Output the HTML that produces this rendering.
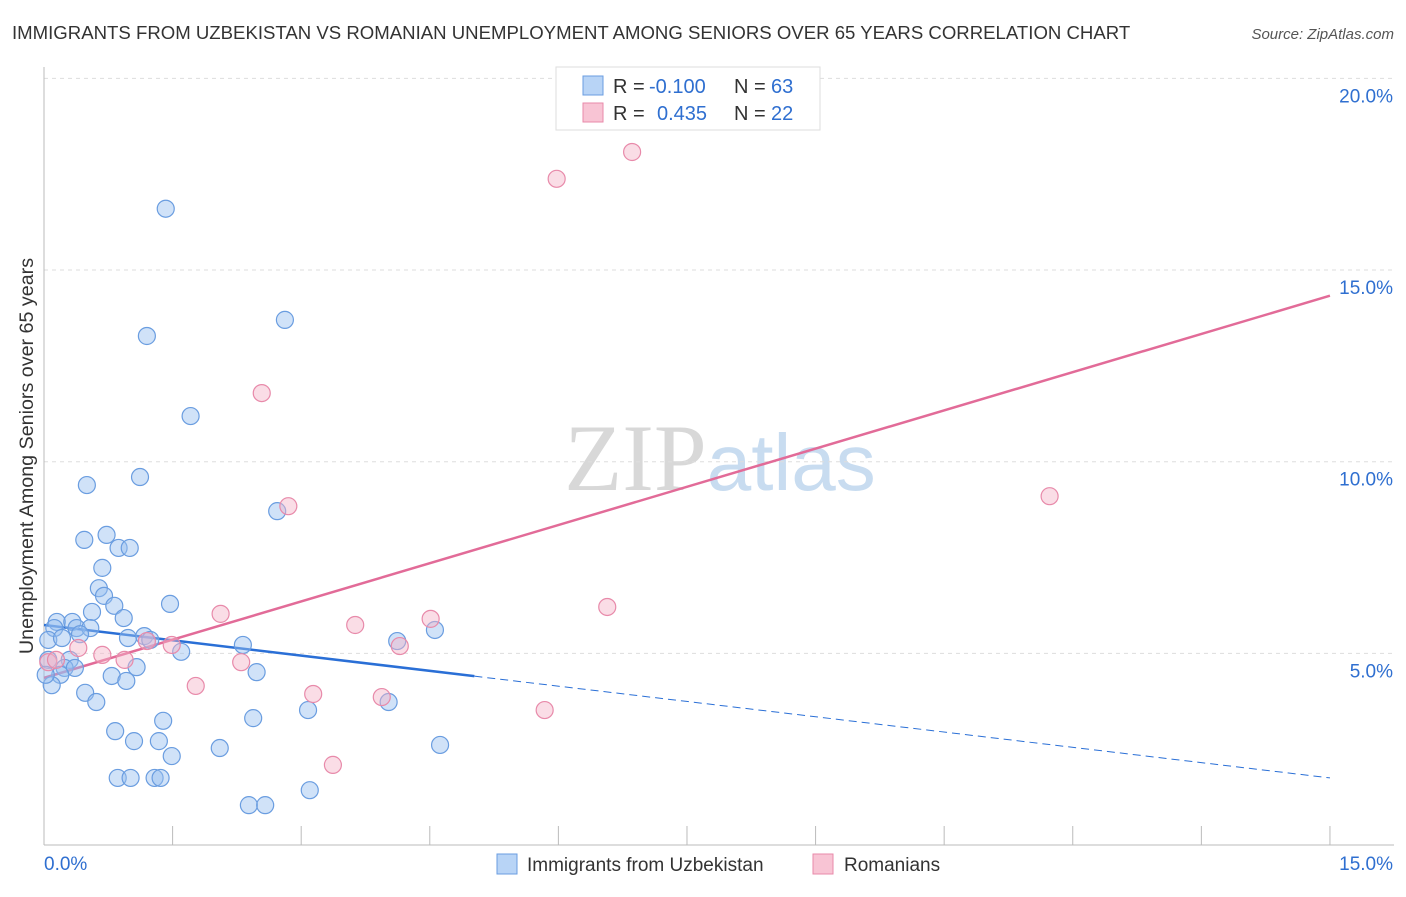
<!DOCTYPE html>
<html><head><meta charset="utf-8"><style>
body{margin:0;background:#fff;font-family:"Liberation Sans",sans-serif;}
svg text{font-family:"Liberation Sans",sans-serif;}
</style></head><body>
<svg id="chart" width="1406" height="892" viewBox="0 0 1406 892" xmlns="http://www.w3.org/2000/svg">
<text x="12" y="39" font-size="18.6" fill="#333">IMMIGRANTS FROM UZBEKISTAN VS ROMANIAN UNEMPLOYMENT AMONG SENIORS OVER 65 YEARS CORRELATION CHART</text>
<text x="1394" y="39" font-size="15" fill="#555" text-anchor="end" font-style="italic">Source: ZipAtlas.com</text>
<text x="720" y="490" font-size="95" text-anchor="middle" fill="#ddd"><tspan font-family="Liberation Serif" fill="#d8d8d8">ZIP</tspan><tspan fill="#c8dcf0" font-size="80">atlas</tspan></text>
<g id="grid"></g>
<g id="axes"></g>
<g id="lines"></g>
<g id="pts"></g>
<text transform="translate(33,456) rotate(-90)" font-size="19.7" fill="#333" text-anchor="middle">Unemployment Among Seniors over 65 years</text>
<g>
<rect x="556" y="67" width="264" height="63" fill="#fff" stroke="#ddd"/>
<rect x="583" y="76" width="20" height="19" fill="#b8d4f6" stroke="#6a9de0"/>
<rect x="583" y="103" width="20" height="19" fill="#f8c4d4" stroke="#e88aaa"/>
<text x="613" y="93" font-size="20" fill="#333">R =</text>
<text x="649" y="93" font-size="20" fill="#2f6fd0">-0.100</text>
<text x="734" y="93" font-size="20" fill="#333">N =</text>
<text x="771" y="93" font-size="20" fill="#2f6fd0">63</text>
<text x="613" y="120" font-size="20" fill="#333">R =</text>
<text x="657" y="120" font-size="20" fill="#2f6fd0">0.435</text>
<text x="734" y="120" font-size="20" fill="#333">N =</text>
<text x="771" y="120" font-size="20" fill="#2f6fd0">22</text>
</g>
<g>
<rect x="497" y="854" width="20" height="20" fill="#b8d4f6" stroke="#6a9de0"/>
<text x="527" y="871" font-size="19" fill="#333">Immigrants from Uzbekistan</text>
<rect x="813" y="854" width="20" height="20" fill="#f8c4d4" stroke="#e88aaa"/>
<text x="844" y="871" font-size="19" fill="#333">Romanians</text>
</g>
</svg>
<script>
const blueX=[1.42,2.81,1.20,1.71,1.12,0.50,2.72,0.47,0.73,0.87,1.00,0.68,0.64,0.70,0.56,0.82,1.47,0.93,0.15,0.33,0.12,0.38,0.54,0.05,0.21,0.42,0.98,1.17,1.24,2.32,1.60,4.12,4.56,0.30,0.24,0.36,0.19,0.09,1.08,0.79,0.96,2.48,0.48,0.61,4.02,3.08,2.44,1.39,0.83,1.05,1.34,1.49,2.05,4.62,0.86,1.01,1.29,1.36,2.39,2.58,3.10,0.05,0.02];
const blueY=[16.60,13.70,13.28,11.19,9.60,9.39,8.71,7.96,8.09,7.75,7.75,7.23,6.70,6.50,6.08,6.24,6.29,5.92,5.82,5.82,5.66,5.66,5.66,5.35,5.40,5.50,5.40,5.45,5.35,5.22,5.04,5.32,5.61,4.83,4.62,4.62,4.44,4.17,4.64,4.41,4.28,4.51,3.97,3.73,3.73,3.52,3.31,3.24,2.97,2.71,2.71,2.32,2.53,2.61,1.75,1.75,1.75,1.75,1.04,1.04,1.43,4.83,4.44];
const pinkX=[6.86,5.98,2.54,2.85,11.73,6.57,2.06,4.51,3.63,4.15,1.49,1.20,0.40,0.68,0.94,2.30,0.05,0.14,1.77,3.14,3.94,5.84,3.37];
const pinkY=[18.08,17.38,11.79,8.84,9.10,6.21,6.03,5.90,5.74,5.19,5.22,5.32,5.14,4.96,4.83,4.77,4.77,4.83,4.15,3.94,3.86,3.52,2.09];
const yTicks=[5,10,15,20];
const yTickLabels=["5.0%","10.0%","15.0%","20.0%"];
const xTicks=[0,1.5,3,4.5,6,7.5,9,10.5,12,13.5,15];
const blueTrend=[5.74,-0.266,5.02];
const pinkTrend=[4.36,14.33];
const NS="http://www.w3.org/2000/svg";
const X=v=>44+v*85.73, Y=v=>845-v*38.33;
function mk(p,t,a){const e=document.createElementNS(NS,t);for(const k in a)e.setAttribute(k,a[k]);document.getElementById(p).appendChild(e);return e;}
yTicks.forEach((t,i)=>{
 const g=mk('grid','line',{x1:44,x2:1394,y1:Y(t),y2:Y(t),stroke:'#ddd','stroke-dasharray':'4,4'});
 
 
 const l=mk('axes','text',{x:1393,y:Y(t)+24,'font-size':19,fill:'#2f6fd0','text-anchor':'end'});
 l.textContent=yTickLabels[i];
 
 
});
const ax=mk('axes','line',{x1:44,x2:44,y1:67,y2:845,stroke:'#bbb'});


const bx=mk('axes','line',{x1:44,x2:1394,y1:845,y2:845,stroke:'#bbb'});


xTicks.forEach(t=>{
 const e=mk('axes','line',{x1:X(t),x2:X(t),y1:826,y2:845,stroke:'#bbb'});
 
 
});
const x0=mk('axes','text',{x:44,y:870,'font-size':19,fill:'#2f6fd0'});x0.textContent='0.0%';


const x1=mk('axes','text',{x:1393,y:870,'font-size':19,fill:'#2f6fd0','text-anchor':'end'});x1.textContent='15.0%';


blueX.forEach((v,i)=>{
 const c=mk('pts','circle',{cx:X(v),cy:Y(blueY[i]),r:8.5,fill:'rgba(150,190,240,0.45)',stroke:'#6a9de0','stroke-width':1.2});
 
 
});
pinkX.forEach((v,i)=>{
 const c=mk('pts','circle',{cx:X(v),cy:Y(pinkY[i]),r:8.5,fill:'rgba(245,180,200,0.45)',stroke:'#e88aaa','stroke-width':1.2});
 
 
});
const bf=x=>blueTrend[0]+blueTrend[1]*x;
const b1=mk('lines','line',{x1:X(0),y1:Y(bf(0)),x2:X(blueTrend[2]),y2:Y(bf(blueTrend[2])),stroke:'#2a6fd6','stroke-width':2.5});


const b2=mk('lines','line',{x1:X(blueTrend[2]),y1:Y(bf(blueTrend[2])),x2:X(15),y2:Y(bf(15)),stroke:'#2a6fd6','stroke-width':1,'stroke-dasharray':'8,5'});


const p1=mk('lines','line',{x1:X(0),y1:Y(pinkTrend[0]),x2:X(15),y2:Y(pinkTrend[1]),stroke:'#e26b98','stroke-width':2.5});


</script>
</body></html>
